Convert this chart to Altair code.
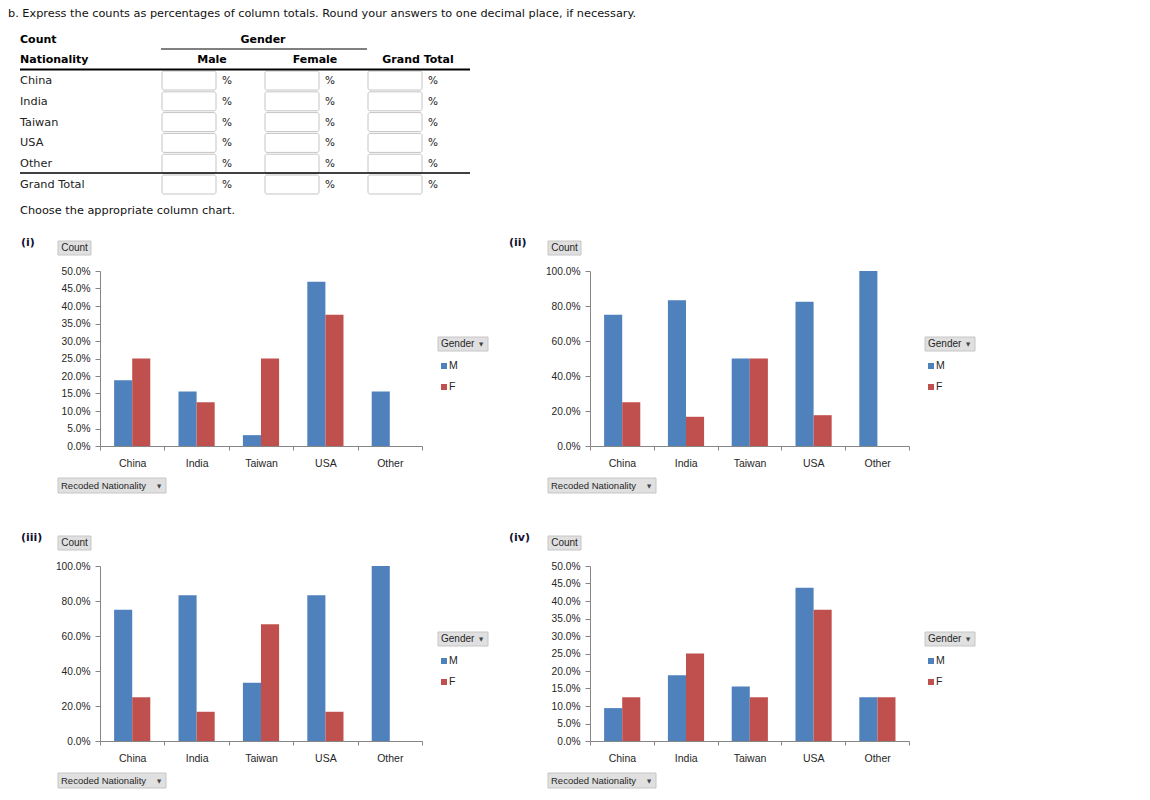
import altair as alt
import pandas as pd

# ---------------- data ----------------
nationalities = ["China", "India", "Taiwan", "USA", "Other"]
genders = ["M", "F"]

chart_i_male = [18.8, 15.6, 3.1, 46.9, 15.6]
chart_i_female = [25.0, 12.5, 25.0, 37.5, 0.0]
chart_ii_male = [75.0, 83.3, 50.0, 82.4, 100.0]
chart_ii_female = [25.0, 16.7, 50.0, 17.6, 0.0]
chart_iii_male = [75.0, 83.3, 33.3, 83.3, 100.0]
chart_iii_female = [25.0, 16.7, 66.7, 16.7, 0.0]
chart_iv_male = [9.4, 18.8, 15.6, 43.8, 12.5]
chart_iv_female = [12.5, 25.0, 12.5, 37.5, 12.5]

ticks_half = [0, 5, 10, 15, 20, 25, 30, 35, 40, 45, 50]
ticks_full = [0, 20, 40, 60, 80, 100]

table_rows = ["China", "India", "Taiwan", "USA", "Other", "Grand Total"]
table_cols = ["Male", "Female", "Grand Total"]
instruction = ("b. Express the counts as percentages of column totals. "
               "Round your answers to one decimal place, if necessary.")
prompt = "Choose the appropriate column chart."

# ---------------- styles ----------------
TXT = "DejaVu Sans"
CH = "Liberation Sans"
BLUE = "#4F81BD"
RED = "#C0504D"
AXIS_GRAY = "#868686"
LABEL = "#262626"
BTN_FILL = "#e0e0e0"
BTN_STROKE = "#c6c6c6"

one = pd.DataFrame({"k": [0]})


def tx(df, bold=False, align="left", size=11.3, color="#111111"):
    return alt.Chart(df).mark_text(
        font=TXT, fontSize=size, fontWeight="bold" if bold else "normal",
        align=align, baseline="middle", color=color
    ).encode(
        x=alt.X("px:Q", scale=None, axis=None),
        y=alt.Y("py:Q", scale=None, axis=None),
        text="text:N",
    )


# ---------------- header (table) ----------------
row_y = [73 + 20.8 * i for i in range(len(table_rows))]
box_left = [62, 165, 268]

top_text = pd.DataFrame({"text": [instruction, prompt], "px": [-92, -80], "py": [6, 203]})
row_text = pd.DataFrame({"text": table_rows, "px": [-80] * len(table_rows), "py": row_y})
bold_left = pd.DataFrame({"text": ["Count", "Nationality"], "px": [-80, -80], "py": [32, 52]})
bold_center = pd.DataFrame({
    "text": ["Gender"] + table_cols,
    "px": [163] + [b + 50 for b in box_left],
    "py": [32, 52, 52, 52],
})
boxes = pd.DataFrame([
    {"x": b, "x2": b + 54, "y": y - 10, "y2": y + 9}
    for y in row_y for b in box_left
])
pcts = pd.DataFrame([
    {"text": "%", "px": b + 65, "py": y} for y in row_y for b in box_left
])
rules = pd.DataFrame({
    "x": [61, -80, -80], "x2": [267, 370, 370],
    "y": [41, 61.5, 165], "sw": [1, 2, 1.3],
})

header = alt.layer(
    tx(top_text),
    tx(row_text, color="#222222"),
    tx(bold_left, bold=True, size=11, color="#000000"),
    tx(bold_center, bold=True, size=11, align="center", color="#000000"),
    alt.Chart(boxes).mark_rect(fill="white", stroke="#c4c4c4", strokeWidth=1, cornerRadius=2).encode(
        x=alt.X("x:Q", scale=None, axis=None), x2="x2:Q",
        y=alt.Y("y:Q", scale=None, axis=None), y2="y2:Q",
    ),
    tx(pcts, align="center", size=10.5, color="#222222"),
    alt.Chart(rules).mark_rule(color="#000000").encode(
        x=alt.X("x:Q", scale=None, axis=None), x2="x2:Q",
        y=alt.Y("y:Q", scale=None, axis=None),
        strokeWidth=alt.StrokeWidth("sw:Q", scale=None, legend=None),
    ),
).properties(width=322, height=143)

header_right = alt.Chart(one).mark_rule(opacity=0).encode(
    x=alt.value(10), x2=alt.value(20), y=alt.value(60)
).properties(width=319, height=143)


# ---------------- bar panels ----------------
def dtext(text, x, y, align="left", font=CH, size=9.5, bold=False, color=LABEL):
    return alt.Chart(one).mark_text(
        text=text, align=align, baseline="middle", font=font, fontSize=size,
        fontWeight="bold" if bold else "normal", color=color
    ).encode(x=alt.value(x), y=alt.value(y))


def drect(x, x2, y, y2, fill, stroke=None):
    kw = {"fill": fill}
    if stroke:
        kw["stroke"] = stroke
        kw["strokeWidth"] = 1
    return alt.Chart(one).mark_rect(**kw).encode(
        x=alt.value(x), x2=alt.value(x2), y=alt.value(y), y2=alt.value(y2)
    )


def panel(tag, tag_x, male, female, ymax, yticks, width):
    df = pd.DataFrame({
        "Nationality": nationalities * 2,
        "Gender": ["M"] * len(nationalities) + ["F"] * len(nationalities),
        "Pct": male + female,
    })
    bars = alt.Chart(df).mark_bar().encode(
        x=alt.X("Nationality:N", sort=nationalities,
                scale=alt.Scale(paddingInner=0, paddingOuter=0),
                axis=alt.Axis(title=None, labelAngle=0, tickBand="extent",
                              domainColor=AXIS_GRAY, tickColor=AXIS_GRAY, tickSize=4,
                              labelPadding=8, labelFont=CH, labelFontSize=10.5,
                              labelColor=LABEL)),
        xOffset=alt.XOffset("Gender:N", sort=genders,
                            scale=alt.Scale(paddingInner=0, paddingOuter=0.78)),
        y=alt.Y("Pct:Q", scale=alt.Scale(domain=[0, ymax], nice=False),
                axis=alt.Axis(title=None, values=yticks, grid=False,
                              labelExpr="format(datum.value, '.1f') + '%'",
                              domainColor=AXIS_GRAY, tickColor=AXIS_GRAY, tickSize=5,
                              labelPadding=5, labelFont=CH, labelFontSize=10.2,
                              labelColor=LABEL, labelOverlap=False)),
        color=alt.Color("Gender:N", scale=alt.Scale(domain=genders, range=[BLUE, RED]),
                        legend=None),
    )
    W = width
    deco = [
        dtext(tag, tag_x, -28, font=TXT, size=11, bold=True, color="#111133"),
        drect(-42, -9, -30, -16, BTN_FILL, BTN_STROKE),
        dtext("Count", -25.5, -23, align="center", size=10),
        drect(-42, 66, 207, 222, BTN_FILL, BTN_STROKE),
        dtext("Recoded Nationality", -39, 214.5),
        dtext("\u25BC", 59, 214.5, align="center", font=TXT, size=5.5, color="#444444"),
        drect(W + 16, W + 66, 66, 80, BTN_FILL, BTN_STROKE),
        dtext("Gender", W + 19, 73, size=10),
        dtext("\u25BC", W + 59, 73, align="center", font=TXT, size=5.5, color="#444444"),
        drect(W + 19, W + 25, 92, 98, BLUE),
        dtext("M", W + 27, 95, size=10.5),
        drect(W + 19, W + 25, 113, 119, RED),
        dtext("F", W + 27, 116, size=10.5),
    ]
    return alt.layer(bars, *deco).properties(width=width, height=175)


p1 = panel("(i)", -79, chart_i_male, chart_i_female, 50, ticks_half, 322)
p2 = panel("(ii)", -81, chart_ii_male, chart_ii_female, 100, ticks_full, 319)
p3 = panel("(iii)", -79, chart_iii_male, chart_iii_female, 100, ticks_full, 322)
p4 = panel("(iv)", -81, chart_iv_male, chart_iv_female, 50, ticks_half, 319)

chart = alt.concat(
    header, header_right, p1, p2, p3, p4,
    columns=2, spacing={"row": 120, "column": 168}, bounds="flush", align="each",
).properties(padding=0, background="white").configure_view(stroke=None)

chart.save("out.html", embed_options={"renderer": "svg", "actions": False})
